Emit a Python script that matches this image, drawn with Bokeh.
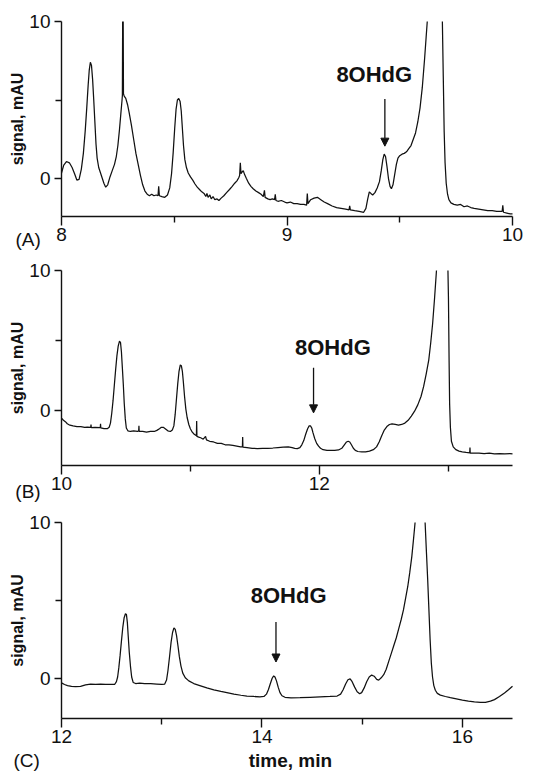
import numpy as np
from bokeh.plotting import figure
from bokeh.models import Range1d, FixedTicker, Label, Arrow, NormalHead, ColumnDataSource, LinearAxis
from bokeh.layouts import column
from bokeh.embed import file_html
from bokeh.resources import INLINE

NAN = float("nan")  # trace runs off the top of the axes there (not visible)

# ---------------- data ----------------
a_time = [8.000, 8.010, 8.022, 8.035, 8.047, 8.058, 8.068, 8.078, 8.088, 8.097, 8.105, 8.112, 8.118,
          8.123, 8.128, 8.133, 8.138, 8.143, 8.148, 8.153, 8.158, 8.165, 8.172, 8.180, 8.188, 8.196,
          8.205, 8.215, 8.225, 8.235, 8.243, 8.250, 8.257, 8.263, 8.2685, 8.2700, 8.2712, 8.2724, 8.2736,
          8.2748, 8.278, 8.285, 8.293, 8.300, 8.310, 8.320, 8.330, 8.340, 8.350, 8.360, 8.370, 8.380,
          8.390, 8.400, 8.410, 8.420, 8.428, 8.431, 8.434, 8.445, 8.458, 8.470, 8.480, 8.488, 8.495,
          8.502, 8.508, 8.514, 8.520, 8.526, 8.531, 8.536, 8.541, 8.547, 8.554, 8.562, 8.572, 8.582,
          8.592, 8.602, 8.612, 8.622, 8.632, 8.640, 8.645, 8.650, 8.658, 8.664, 8.672, 8.680, 8.690,
          8.698, 8.708, 8.720, 8.732, 8.745, 8.757, 8.768, 8.778, 8.786, 8.790, 8.793, 8.796, 8.800,
          8.806, 8.812, 8.820, 8.830, 8.840, 8.850, 8.862, 8.874, 8.885, 8.895, 8.900, 8.903, 8.915,
          8.925, 8.935, 8.945, 8.948, 8.951, 8.960, 8.975, 8.990, 9.000, 9.015, 9.030, 9.045, 9.060,
          9.075, 9.087, 9.090, 9.093, 9.105, 9.120, 9.135, 9.150, 9.165, 9.180, 9.200, 9.220, 9.240,
          9.260, 9.275, 9.278, 9.281, 9.300, 9.320, 9.340, 9.350, 9.358, 9.365, 9.372, 9.380, 9.390,
          9.400, 9.410, 9.418, 9.425, 9.431, 9.437, 9.443, 9.450, 9.457, 9.463, 9.470, 9.478, 9.485,
          9.492, 9.500, 9.510, 9.520, 9.530, 9.540, 9.550, 9.560, 9.570, 9.580, 9.590, 9.600, 9.610,
          9.617, 9.622, 9.655, 9.689, 9.693, 9.697, 9.701, 9.706, 9.712, 9.718, 9.727, 9.740, 9.755,
          9.770, 9.785, 9.800, 9.815, 9.830, 9.850, 9.870, 9.890, 9.910, 9.930, 9.954, 9.957, 9.960,
          9.975, 9.990, 10.000]
a_signal = [0.35, 0.85, 1.08, 1.0, 0.7, 0.3, -0.1, -0.05, 0.6, 1.6, 3.0, 4.5, 5.9,
            6.9, 7.4, 7.2, 6.3, 5.0, 3.6, 2.2, 1.3, 0.7, 0.4, 0.05, -0.3, -0.55,
            -0.4, 0.1, 0.5, 0.9, 1.4, 2.1, 3.1, 4.1, 5.0, 5.3, 10.0, 5.9, 10.0,
            5.4, 5.25, 5.1, 4.7, 4.2, 3.4, 2.5, 1.6, 0.9, 0.2, -0.4, -0.8, -1.0,
            -1.1, -1.0, -1.1, -1.05, -1.1, -0.5, -1.1, -1.15, -1.2, -1.05, -0.6, 0.3, 1.6,
            3.2, 4.4, 5.0, 5.1, 4.9, 4.3, 3.2, 2.1, 1.2, 0.7, 0.35, 0.1, -0.1,
            -0.35, -0.55, -0.7, -0.85, -0.95, -1.15, -0.95, -1.2, -1.05, -1.3, -1.15, -1.35, -1.3,
            -1.4, -1.25, -1.1, -0.9, -0.7, -0.5, -0.3, -0.15, 0.05, 0.2, 1.0, 0.3, 0.4,
            0.5, 0.25, 0.0, -0.3, -0.5, -0.65, -0.8, -0.9, -1.0, -1.15, -0.75, -1.2, -1.3,
            -1.35, -1.3, -1.35, -1.0, -1.4, -1.45, -1.4, -1.5, -1.55, -1.5, -1.6, -1.6, -1.65,
            -1.65, -1.7, -0.95, -1.6, -1.35, -1.25, -1.2, -1.35, -1.5, -1.6, -1.75, -1.85, -1.9,
            -1.95, -2.0, -1.75, -2.0, -2.05, -2.1, -2.15, -1.9, -1.3, -0.85, -0.95, -1.05, -0.9,
            -0.6, -0.2, 0.5, 1.2, 1.55, 1.4, 0.8, 0.0, -0.5, -0.65, -0.4, 0.3, 0.9,
            1.3, 1.45, 1.55, 1.6, 1.7, 1.9, 2.1, 2.5, 2.9, 3.6, 4.5, 5.8, 7.6,
            9.0, 10.0, NAN, 10.0, 6.5, 3.0, 1.0, -0.3, -1.0, -1.35, -1.55, -1.65, -1.7,
            -1.65, -1.8, -1.75, -1.85, -1.9, -1.95, -2.0, -2.05, -2.05, -2.1, -2.1, -1.7, -2.15,
            -2.2, -2.25, -2.25]

b_time = [10.000, 10.015, 10.030, 10.045, 10.065, 10.090, 10.120, 10.150, 10.180, 10.200, 10.227, 10.229,
          10.231, 10.260, 10.301, 10.303, 10.305, 10.330, 10.355, 10.370, 10.380, 10.390, 10.400, 10.410,
          10.420, 10.430, 10.440, 10.450, 10.458, 10.465, 10.472, 10.480, 10.487, 10.495, 10.503, 10.515,
          10.535, 10.560, 10.590, 10.599, 10.601, 10.603, 10.630, 10.660, 10.690, 10.720, 10.740, 10.760,
          10.775, 10.790, 10.805, 10.825, 10.845, 10.860, 10.872, 10.882, 10.892, 10.902, 10.912, 10.922,
          10.930, 10.938, 10.946, 10.955, 10.965, 10.975, 10.988, 11.000, 11.015, 11.030, 11.047, 11.049,
          11.051, 11.065, 11.080, 11.100, 11.118, 11.125, 11.150, 11.180, 11.210, 11.240, 11.270, 11.300,
          11.330, 11.360, 11.390, 11.404, 11.406, 11.408, 11.440, 11.480, 11.520, 11.560, 11.600, 11.640,
          11.680, 11.720, 11.760, 11.790, 11.810, 11.830, 11.850, 11.865, 11.880, 11.895, 11.910, 11.922,
          11.932, 11.942, 11.952, 11.965, 11.980, 11.995, 12.010, 12.030, 12.060, 12.090, 12.120, 12.150,
          12.175, 12.195, 12.212, 12.225, 12.237, 12.250, 12.265, 12.280, 12.300, 12.330, 12.360, 12.390,
          12.420, 12.445, 12.465, 12.485, 12.505, 12.525, 12.545, 12.565, 12.590, 12.615, 12.640, 12.665,
          12.690, 12.715, 12.740, 12.765, 12.790, 12.810, 12.830, 12.850, 12.865, 12.880, 12.895, 12.910,
          12.955, 12.999, 13.003, 13.008, 13.012, 13.018, 13.026, 13.040, 13.060, 13.085, 13.110,
          13.140, 13.168, 13.170, 13.172, 13.200, 13.240, 13.280, 13.320, 13.360, 13.400, 13.440, 13.480,
          13.500]
b_signal = [-0.55, -0.7, -0.8, -0.95, -1.05, -1.1, -1.15, -1.15, -1.2, -1.18, -1.2, -1.0,
            -1.22, -1.2, -1.22, -0.95, -1.25, -1.3, -1.3, -1.2, -0.9, -0.2, 0.7, 1.8,
            2.9, 3.9, 4.6, 4.95, 4.85, 4.2, 3.1, 1.8, 0.5, -0.6, -1.25, -1.45,
            -1.5, -1.45, -1.5, -1.45, -1.1, -1.5, -1.5, -1.55, -1.5, -1.5, -1.42, -1.3,
            -1.2, -1.2, -1.3, -1.45, -1.5, -1.4, -1.1, -0.3, 0.8, 1.9, 2.8, 3.25,
            3.2, 2.8, 2.0, 1.0, 0.1, -0.5, -1.0, -1.3, -1.55, -1.7, -1.8, -0.75,
            -1.85, -1.9, -1.95, -2.05, -1.85, -2.1, -2.2, -2.25, -2.35, -2.35, -2.45, -2.45,
            -2.5, -2.55, -2.6, -2.6, -1.9, -2.62, -2.65, -2.7, -2.72, -2.7, -2.7, -2.68,
            -2.65, -2.62, -2.6, -2.65, -2.7, -2.72, -2.65, -2.45, -2.15, -1.7, -1.3, -1.1,
            -1.1, -1.25, -1.6, -2.0, -2.35, -2.55, -2.7, -2.8, -2.85, -2.85, -2.85, -2.82,
            -2.7, -2.45, -2.25, -2.2, -2.25, -2.45, -2.7, -2.85, -2.93, -2.95, -2.95, -2.9,
            -2.8, -2.6, -2.25, -1.8, -1.4, -1.15, -1.0, -0.95, -1.0, -1.05, -1.0, -0.9,
            -0.7, -0.4, -0.05, 0.4, 1.0, 1.7, 2.6, 3.6, 4.8, 6.2, 8.0, 10.0,
            NAN, 10.0, 8.0, 3.5, 0.5, -1.2, -2.2, -2.6, -2.8, -2.9, -2.95,
            -3.0, -3.02, -2.65, -3.05, -3.05, -3.05, -3.08, -3.05, -3.1, -3.08, -3.1, -3.08,
            -3.1]

c_time = [12.000, 12.030, 12.060, 12.100, 12.140, 12.190, 12.240, 12.290, 12.340, 12.390, 12.440, 12.490,
          12.530, 12.548, 12.560, 12.572, 12.585, 12.598, 12.612, 12.625, 12.638, 12.648, 12.657, 12.666,
          12.676, 12.688, 12.700, 12.715, 12.740, 12.780, 12.830, 12.890, 12.950, 13.000, 13.030, 13.048,
          13.062, 13.078, 13.093, 13.108, 13.122, 13.135, 13.148, 13.162, 13.176, 13.192, 13.210, 13.235,
          13.270, 13.320, 13.380, 13.450, 13.520, 13.590, 13.650, 13.720, 13.790, 13.850, 13.920, 13.980,
          14.020, 14.045, 14.065, 14.085, 14.102, 14.117, 14.130, 14.145, 14.162, 14.180, 14.200, 14.230,
          14.290, 14.380, 14.480, 14.580, 14.680, 14.750, 14.785, 14.810, 14.835, 14.858, 14.880, 14.900,
          14.925, 14.950, 14.975, 14.995, 15.020, 15.045, 15.070, 15.095, 15.120, 15.145, 15.165, 15.190,
          15.215, 15.240, 15.265, 15.290, 15.315, 15.340, 15.365, 15.390, 15.412, 15.435, 15.455, 15.475,
          15.495, 15.512, 15.528, 15.578, 15.628, 15.642, 15.654, 15.666, 15.678, 15.690, 15.702,
          15.715, 15.730, 15.750, 15.780, 15.830, 15.880, 15.940, 16.000, 16.060, 16.120, 16.180, 16.230,
          16.280, 16.320, 16.370, 16.420, 16.460, 16.500]
c_signal = [-0.28, -0.38, -0.45, -0.5, -0.52, -0.5, -0.4, -0.36, -0.38, -0.36, -0.38, -0.38,
            -0.38, -0.2, 0.1, 0.7, 1.5, 2.4, 3.3, 3.9, 4.15, 4.1, 3.6, 2.7,
            1.7, 0.8, 0.1, -0.25, -0.32, -0.3, -0.32, -0.32, -0.35, -0.38, -0.35, -0.1,
            0.5, 1.4, 2.3, 2.95, 3.25, 3.15, 2.75, 2.1, 1.4, 0.8, 0.35, 0.05,
            -0.15, -0.32, -0.45, -0.6, -0.72, -0.82, -0.9, -1.0, -1.07, -1.12, -1.15, -1.17,
            -1.15, -1.0, -0.7, -0.3, 0.02, 0.17, 0.1, -0.15, -0.55, -0.9, -1.1, -1.2,
            -1.24, -1.23, -1.2, -1.17, -1.15, -1.12, -1.0, -0.72, -0.35, -0.08, -0.02, -0.2,
            -0.55, -0.85, -0.98, -0.9, -0.6, -0.2, 0.1, 0.22, 0.15, -0.05, -0.1, 0.05,
            0.25, 0.6, 1.1, 1.6, 2.1, 2.6, 3.2, 3.8, 4.4, 5.2, 5.9, 6.8,
            7.8, 8.9, 10.0, NAN, 10.0, 8.0, 6.3, 4.4, 2.5, 1.0, 0.1,
            -0.45, -0.75, -0.95, -1.06, -1.15, -1.22, -1.3, -1.38, -1.45, -1.5, -1.53, -1.52,
            -1.45, -1.35, -1.15, -0.92, -0.72, -0.49]

panel_tags = ["(A)", "(B)", "(C)"]
x_limits = [(8, 10), (10, 13.5), (12, 16.5)]
y_limits = [(-2.42, 10), (-3.93, 10), (-2.56, 10)]
x_major = [[8, 9, 10], [10, 12], [12, 14, 16]]
x_minor = [[8.5, 9.5], [11, 13], [13, 15]]
y_major = [0, 10]
y_minor = [5]
peak_label = "8OHdG"
arrow_x = [9.434, 11.956, 14.14]
arrow_top = [5.07, 3.05, 3.62]
arrow_tip = [2.06, -0.17, 1.06]
label_x = [9.387, 12.106, 14.266]
label_y = [6.63, 4.53, 5.34]
tag_x = [7.796, 9.642, 11.52]
tag_y = [-3.86, -5.78, -5.26]
y_title = "signal, mAU"
x_title = "time, min"
x_title_pos = (14.284, -5.26)

FONT = "Liberation Sans"
INK = "#111111"

# layout of each panel (pixels): figure size, axes box inside it
FIG_W = 544
AX_LEFT, AX_W = 61, 451
fig_heights = [257, 252, 263]
ax_tops = [21, 13, 13]
ax_heights = [195, 195, 196]

traces = [(a_time, a_signal), (b_time, b_signal), (c_time, c_signal)]

panels = []
for i in range(3):
    t, s = traces[i]
    xmin, xmax = x_limits[i]
    ymin, ymax = y_limits[i]
    sx = AX_W / (xmax - xmin)
    sy = ax_heights[i] / (ymax - ymin)
    x0 = xmin - AX_LEFT / sx
    x1 = x0 + FIG_W / sx
    y1 = ymax + ax_tops[i] / sy
    y0 = y1 - fig_heights[i] / sy

    p = figure(width=FIG_W, height=fig_heights[i],
               x_range=Range1d(x0, x1), y_range=Range1d(y0, y1),
               output_backend="svg", toolbar_location=None,
               x_axis_location=None, y_axis_location=None, min_border=0)
    p.outline_line_color = None
    p.xgrid.visible = False
    p.ygrid.visible = False
    p.background_fill_color = "white"
    p.border_fill_color = "white"

    src = ColumnDataSource(dict(t=np.array(t, dtype=float), s=np.array(s, dtype=float)))
    p.line("t", "s", source=src, line_color=INK, line_width=1.25)

    xax = LinearAxis(fixed_location=ymin, bounds=(xmin, xmax),
                     ticker=FixedTicker(ticks=x_major[i], minor_ticks=x_minor[i]))
    yax = LinearAxis(fixed_location=xmin, bounds=(ymin, ymax),
                     ticker=FixedTicker(ticks=y_major, minor_ticks=y_minor))
    for ax in (xax, yax):
        ax.axis_line_color = INK
        ax.axis_line_width = 1.4
        ax.major_tick_line_color = INK
        ax.minor_tick_line_color = INK
        ax.major_tick_line_width = 1.4
        ax.minor_tick_line_width = 1.4
        ax.major_tick_in = 0
        ax.minor_tick_in = 0
        ax.major_label_text_font = FONT
        ax.major_label_text_font_size = "19px"
        ax.major_label_text_color = INK
    xax.major_tick_out = 9
    xax.minor_tick_out = 6
    xax.major_label_standoff = 2
    yax.major_tick_out = 7
    yax.minor_tick_out = 6
    yax.major_label_standoff = 4
    yax.axis_label = y_title
    yax.axis_label_text_font = FONT
    yax.axis_label_text_font_style = "bold"
    yax.axis_label_text_font_size = "16px"
    yax.axis_label_text_color = INK
    yax.axis_label_standoff = 0
    p.add_layout(xax, "below")
    p.add_layout(yax, "left")

    p.add_layout(Arrow(end=NormalHead(size=8, fill_color=INK, line_color=INK, line_width=1),
                       x_start=arrow_x[i], y_start=arrow_top[i],
                       x_end=arrow_x[i], y_end=arrow_tip[i],
                       line_color=INK, line_width=1.3))
    p.add_layout(Label(x=label_x[i], y=label_y[i], text=peak_label, text_align="center",
                       text_baseline="alphabetic", text_font=FONT, text_font_style="bold",
                       text_font_size="22px", text_color=INK))
    p.add_layout(Label(x=tag_x[i], y=tag_y[i], text=panel_tags[i], text_align="left",
                       text_baseline="alphabetic", text_font=FONT, text_font_size="19px",
                       text_color=INK))
    if i == 2:
        p.add_layout(Label(x=x_title_pos[0], y=x_title_pos[1], text=x_title, text_align="center",
                           text_baseline="alphabetic", text_font=FONT, text_font_style="bold",
                           text_font_size="19px", text_color=INK))
    panels.append(p)

layout = column(*panels, spacing=0)
open("out.html", "w").write(file_html(layout, INLINE))
